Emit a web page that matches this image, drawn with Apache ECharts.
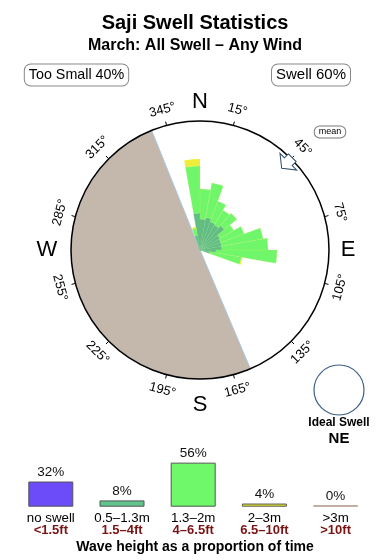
<!DOCTYPE html>
<html><head><meta charset="utf-8">
<script src="https://cdn.jsdelivr.net/npm/echarts@6/dist/echarts.min.js"></script>
<style>html,body{margin:0;padding:0;background:#fff}#c{width:390px;height:560px}</style>
</head><body><div id="c"></div>
<script>
// ---- data ----
const dirBins = ['0','10','20','30','40','50','60','70','80','90','100','110','120','130','140','150','160','170',
  '180','190','200','210','220','230','240','250','260','270','280','290','300','310','320','330','340','350'];
// radial extent (arbitrary % units) of each height class per 10° bin, stacked
const h05 = [3.1,3.3,3.0,2.9,3.2,2.3,2.2,2.2,2.2,1.6,1.0,0,0,0,0,0,0,0,0,0,0,0,0,0,0,0,0,0,0,0,0,0,0,0,1.5,3.7];
const h13 = [3.0,3.5,2.2,1.7,1.6,1.6,2.5,4.2,4.6,6.1,3.2,0,0,0,0,0,0,0,0,0,0,0,0,0,0,0,0,0,0,0,0,0,0,0,0.7,4.7];
const h2  = [0,0,0,0,0,0,0,0,0,0,0.12,0,0,0,0,0,0,0,0,0,0,0,0,0,0,0,0,0,0,0,0,0,0,0,0.15,0.7];
const landStart = 157;           // bearing where land begins (clockwise)
const landSector = [181, 179];   // land degrees, sea degrees
const tickBearings = [15,45,75,105,135,165,195,225,255,285,315,345];
const compass = [['N',0],['E',90],['S',180],['W',270]];
const meanDir = 45;
const legendCats = ['no swell','0.5\u20131.3m','1.3\u20132m','2\u20133m','>3m'];
const legendFt = ['<1.5ft','1.5\u20134ft','4\u20136.5ft','6.5\u201310ft','>10ft'];
const legendPct = [32,8,56,4,0];
const legendColors = ['#6b4cf8','#60c48c','#6ef86a','#eeee30','#c8b0a8'];

const FONT = '"Liberation Sans", Arial, Helvetica, sans-serif';
const chart = echarts.init(document.getElementById('c'), null, {renderer:'canvas'});
const C = [200, 250], R = 129;

chart.setOption({
  animation: false,
  textStyle: {fontFamily: FONT},
  title: [
    {text: 'Saji Swell Statistics', left: 'center', top: 8, textStyle: {fontSize: 20, fontWeight: 'bold', color: '#000', fontFamily: FONT}},
    {text: 'March: All Swell \u2013 Any Wind', left: 'center', top: 33, textStyle: {fontSize: 16, fontWeight: 'bold', color: '#000', fontFamily: FONT}},
    {text: 'Wave height as a proportion of time', left: 'center', top: 535, textStyle: {fontSize: 14, fontWeight: 'bold', color: '#000', fontFamily: FONT}}
  ],
  polar: [{center: C, radius: [0, R]}, {center: C, radius: [0, R]}],
  angleAxis: [
    {polarIndex: 0, type: 'category', data: dirBins, startAngle: 90, clockwise: true, boundaryGap: true,
     axisLine: {show: true, lineStyle: {color: '#000', width: 1.5}}, axisTick: {show: false}, axisLabel: {show: false}, splitLine: {show: false}, z: 10},
    {polarIndex: 1, type: 'value', min: 0, max: 360, interval: 30, startAngle: 75, clockwise: true,
     axisLine: {show: false}, axisTick: {show: true, length: 4, lineStyle: {color: '#000', width: 1}}, axisLabel: {show: false}, splitLine: {show: false}}
  ],
  radiusAxis: [
    {polarIndex: 0, type: 'value', min: 0, max: 12.9, show: false, axisLine:{show:false}, axisLabel:{show:false}, axisTick:{show:false}, splitLine:{show:false}},
    {polarIndex: 1, type: 'value', min: 0, max: 129, show: false, axisLine:{show:false}, axisLabel:{show:false}, axisTick:{show:false}, splitLine:{show:false}}
  ],
  grid: {left: 15.2, width: 356, top: 428, height: 78.7},
  xAxis: {type: 'category', data: legendCats, axisLine: {show: false}, axisTick: {show: false},
    axisLabel: {interval: 0, margin: 5, formatter: (v, i) => '{a|' + v + '}\n{b|' + legendFt[i] + '}',
      rich: {a: {fontSize: 13.3, color: '#000', lineHeight: 12.5, fontFamily: FONT},
             b: {fontSize: 13, color: '#7a1414', fontWeight: 'bold', lineHeight: 13, fontFamily: FONT}}}},
  yAxis: {type: 'value', min: 0, max: 100, show: false, splitLine: {show: false}},
  series: [
    {type: 'pie', center: C, radius: [0, R], startAngle: 90 - landStart, clockwise: true, silent: true, z: 1,
     label: {show: false}, labelLine: {show: false}, emphasis: {disabled: true},
     data: [{value: landSector[0], itemStyle: {color: '#c4b8ad', borderColor: '#a9c7df', borderWidth: 1}},
            {value: landSector[1], itemStyle: {color: 'rgba(0,0,0,0)', borderWidth: 0}}]},
    {type: 'bar', coordinateSystem: 'polar', polarIndex: 0, stack: 'rose', data: h05, barCategoryGap: '0%', z: 3,
     itemStyle: {color: '#62bd82', borderColor: 'rgba(120,200,130,0.5)', borderWidth: 0.5}},
    {type: 'bar', coordinateSystem: 'polar', polarIndex: 0, stack: 'rose', data: h13, barCategoryGap: '0%', z: 3,
     itemStyle: {color: '#70f66a', borderColor: 'rgba(200,235,100,0.45)', borderWidth: 0.5}},
    {type: 'bar', coordinateSystem: 'polar', polarIndex: 0, stack: 'rose', data: h2, barCategoryGap: '0%', z: 3,
     itemStyle: {color: '#eeee3a'}},
    {type: 'bar', xAxisIndex: 0, yAxisIndex: 0, barWidth: 45, barMinHeight: 1.5,
     data: legendPct.map((v, i) => ({value: v, itemStyle: {color: legendColors[i], borderColor: i === 4 ? '#b8a098' : '#555', borderWidth: 1}})),
     label: {show: true, position: 'top', distance: 2, formatter: '{c}%', fontSize: 13.5, color: '#111', fontFamily: FONT}}
  ]
});

// ---- decorations placed through the polar coordinate system ----
const toPx = (r, bearing) => chart.convertToPixel({polarIndex: 1}, [r, ((bearing - 15) % 360 + 360) % 360]);
const g = [];
tickBearings.forEach(b => {
  const p = toPx(145, b);
  let rot = b <= 90 ? b : (b < 270 ? b - 180 : b - 360);
  g.push({type: 'text', x: p[0], y: p[1], rotation: -rot * Math.PI / 180, z: 20,
    style: {text: b + '\u00b0', font: '13px ' + FONT, fill: '#000', align: 'center', verticalAlign: 'middle'}});
});
const letterR = {N: 148, E: 148, S: 155, W: 153};
compass.forEach(([t, b]) => {
  const p = toPx(letterR[t], b);
  g.push({type: 'text', x: p[0], y: p[1], z: 20,
    style: {text: t, font: '22px ' + FONT, fill: '#000', align: 'center', verticalAlign: 'middle'}});
});
// mean direction arrow
const tip = toPx(115.5, meanDir);
g.push({type: 'polygon', x: tip[0], y: tip[1], rotation: -meanDir * Math.PI / 180, z: 25,
  shape: {points: [[0,0],[11.8,-9.4],[5.5,-9.4],[5.5,-15],[-5.5,-15],[-5.5,-9.4],[-11.8,-9.4]]},
  style: {fill: '#fff', stroke: '#2d4a6a', lineWidth: 1}});
g.push({type: 'text', x: 330, y: 132, z: 25,
  style: {text: 'mean', font: '9px ' + FONT, fill: '#000', align: 'center', verticalAlign: 'middle',
    padding: [1, 4, 1, 4], borderColor: '#777', borderWidth: 1, borderRadius: 5, backgroundColor: '#fff'}});
// boxes
g.push({type: 'text', x: 76.5, y: 75, z: 25,
  style: {text: 'Too Small 40%', font: '14.3px ' + FONT, fill: '#000', align: 'center', verticalAlign: 'middle',
    padding: [4, 4, 3, 4], borderColor: '#888', borderWidth: 1, borderRadius: 6, backgroundColor: '#fff'}});
g.push({type: 'text', x: 311, y: 75, z: 25,
  style: {text: 'Swell 60%', font: '15px ' + FONT, fill: '#000', align: 'center', verticalAlign: 'middle',
    padding: [3, 4, 3, 4], borderColor: '#888', borderWidth: 1, borderRadius: 6, backgroundColor: '#fff'}});
// ideal swell
g.push({type: 'circle', shape: {cx: 339, cy: 390, r: 25}, z: 20, style: {fill: 'none', stroke: '#3d5f87', lineWidth: 1.2}});
g.push({type: 'text', x: 339, y: 423, z: 20, style: {text: 'Ideal Swell', font: 'bold 12px ' + FONT, fill: '#000', align: 'center', verticalAlign: 'middle'}});
g.push({type: 'text', x: 339, y: 439, z: 20, style: {text: 'NE', font: 'bold 15px ' + FONT, fill: '#000', align: 'center', verticalAlign: 'middle'}});
chart.setOption({graphic: {elements: g}});
</script></body></html>
